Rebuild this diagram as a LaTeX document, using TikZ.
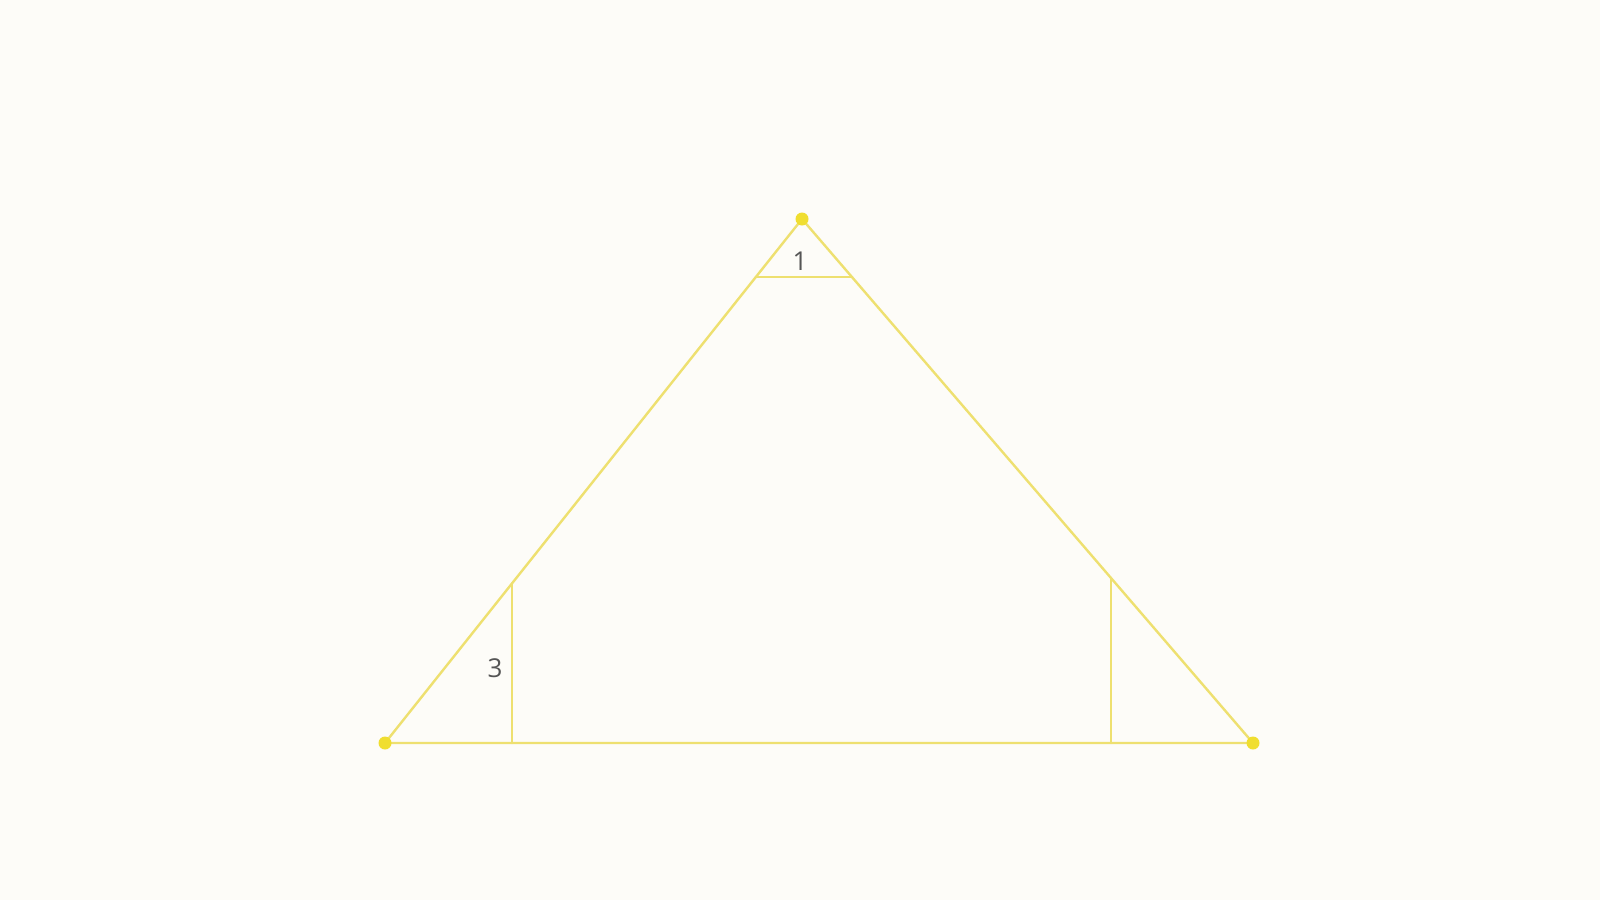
\documentclass[tikz,border=0pt]{standalone}
\usepackage{fontspec}
\setmainfont{Open Sans}
\definecolor{bg}{HTML}{FDFCF8}
\definecolor{ln}{HTML}{EEE070}
\definecolor{dotc}{HTML}{F0DE30}
\definecolor{txt}{HTML}{555555}
\tikzset{
  edge/.style={draw=ln, line width=2.4pt, line cap=round},
  vtx/.style={circle, fill=dotc, inner sep=0pt, minimum size=13pt},
  lbl/.style={text=txt, font=\fontsize{26}{30}\selectfont, inner sep=0pt}
}
\begin{document}
\begin{tikzpicture}[x=1pt,y=-1pt]
\fill[bg] (0,0) rectangle (1600,900);
\useasboundingbox (0,0) rectangle (1600,900);
\coordinate (A) at (802,219);
\coordinate (B) at (385,743);
\coordinate (C) at (1253,743);
\coordinate (T1) at (755.8,277);
\coordinate (T2) at (852,277);
\coordinate (L1) at (512,583.4);
\coordinate (L2) at (512,743);
\coordinate (R1) at (1111,578);
\coordinate (R2) at (1111,743);
\draw[edge] (A) -- (B) -- (C) -- cycle;
\draw[edge] (T1) -- (T2);
\draw[edge] (L1) -- (L2);
\draw[edge] (R1) -- (R2);
\node[vtx] (vA) at (A) {};
\node[vtx] (vB) at (B) {};
\node[vtx] (vC) at (C) {};
\node[lbl] (n1) at (800,261) {1};
\node[lbl] (n3) at (495,668) {3};
\end{tikzpicture}
\end{document}
